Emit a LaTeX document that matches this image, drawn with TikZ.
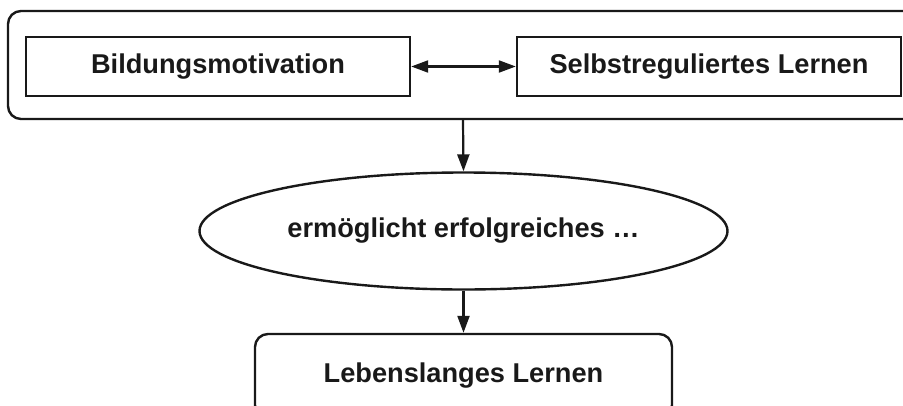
\documentclass[tikz,border=0pt]{standalone}
\usepackage{fontspec}
\setmainfont{Liberation Sans}
\usetikzlibrary{arrows.meta,shapes.geometric}
\tikzset{
  lbl/.style={font=\bfseries\fontsize{27.2}{32}\selectfont, text=black!90},
  plainbox/.style={lbl, draw=black!90, line width=2.4pt, rectangle, inner sep=0pt},
  roundbox/.style={plainbox, rounded corners=13pt},
  oval/.style={lbl, draw=black!90, line width=2.4pt, ellipse, inner sep=0pt},
  conn/.style={draw=black!90, line width=2.2pt, -{Triangle[length=17pt,width=12pt]}},
  biconn/.style={draw=black!90, line width=2.2pt, {Triangle[length=17pt,width=12pt]}-{Triangle[length=17pt,width=12pt]}}
}
\begin{document}
\begin{tikzpicture}[x=1pt,y=-1pt]
\useasboundingbox (0,0) rectangle (903,405);
\clip (0,0) rectangle (903,405);
\node[roundbox, minimum width=910pt, minimum height=108pt] (outer) at (463,65) {};
\node[plainbox, minimum width=384pt, minimum height=59pt] (bm) at (218,66.5) {Bildungsmotivation};
\node[plainbox, minimum width=384pt, minimum height=59pt] (sl) at (709,66.5) {Selbstreguliertes Lernen};
\node[oval, minimum width=528pt, minimum height=117pt] (ell) at (463.5,231) {ermöglicht erfolgreiches …};
\node[roundbox, minimum width=417pt, minimum height=84pt] (ll) at (463.5,376) {Lebenslanges Lernen};
\draw[biconn] (bm.east) -- (sl.west);
\draw[conn] (outer.south) -- (ell.north);
\draw[conn] (ell.south) -- (ll.north);
\end{tikzpicture}
\end{document}
